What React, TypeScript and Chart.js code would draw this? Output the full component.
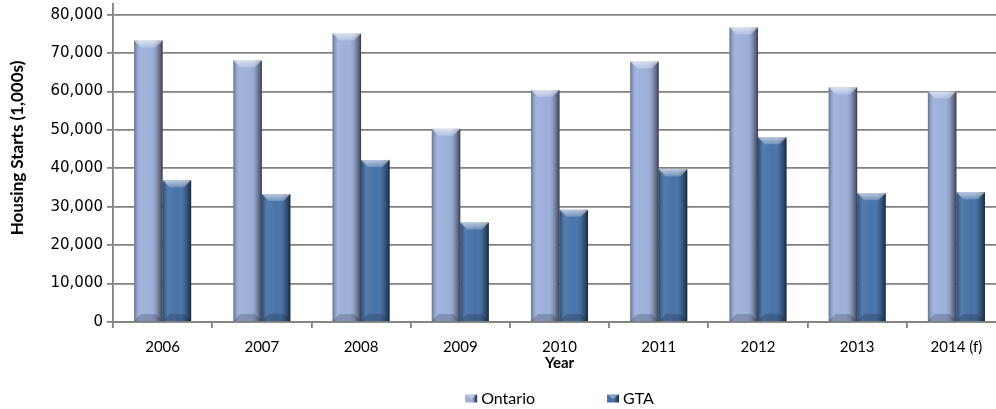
import React, { useEffect, useRef } from "react";
import { Chart, registerables } from "chart.js";

Chart.register(...registerables);

// ---- data ----
const categories = ["2006", "2007", "2008", "2009", "2010", "2011", "2012", "2013", "2014 (f)"];
const ontarioValues = [73300, 68100, 75100, 50300, 60400, 67800, 76700, 61100, 60000];
const gtaValues = [36900, 33300, 42200, 25900, 29200, 39700, 48100, 33500, 33800];
const yTickValues = [0, 10000, 20000, 30000, 40000, 50000, 60000, 70000, 80000];
const seriesNames = ["Ontario", "GTA"];
const seriesColors = ["#9cb0d9", "#4873a8"];
const yTitle = "Housing Starts (1,000s)";
const xTitle = "Year";

const W = 1010;
const H = 409;
const GRID = "#828282";

const barStylePlugin = {
  id: "barStyle",
  afterDatasetsDraw(chart: any) {
    const ctx = chart.ctx as CanvasRenderingContext2D;
    chart.data.datasets.forEach((_ds: any, di: number) => {
      const meta = chart.getDatasetMeta(di);
      meta.data.forEach((el: any) => {
        const { x, y, base, width } = el.getProps(["x", "y", "base", "width"], true);
        const l = x - width / 2;
        const r = x + width / 2;
        const t = Math.min(y, base);
        const b = Math.max(y, base);
        ctx.save();
        const g = ctx.createLinearGradient(l, 0, r, 0);
        g.addColorStop(0, "rgba(0,0,0,0.32)");
        g.addColorStop(0.08, "rgba(0,0,0,0.14)");
        g.addColorStop(0.2, "rgba(255,255,255,0.06)");
        g.addColorStop(0.55, "rgba(255,255,255,0)");
        g.addColorStop(0.78, "rgba(0,0,0,0.14)");
        g.addColorStop(0.92, "rgba(0,0,0,0.42)");
        g.addColorStop(1, "rgba(0,0,0,0.68)");
        ctx.fillStyle = g;
        ctx.fillRect(l, t, width, b - t);
        const bh = Math.min(7, (b - t) / 2);
        const bi = Math.min(7, width / 3);
        ctx.beginPath();
        ctx.moveTo(l, t);
        ctx.lineTo(r, t);
        ctx.lineTo(r - bi, t + bh);
        ctx.lineTo(l + bi, t + bh);
        ctx.closePath();
        const tg = ctx.createLinearGradient(0, t, 0, t + bh);
        tg.addColorStop(0, "rgba(255,255,255,0.6)");
        tg.addColorStop(1, "rgba(255,255,255,0.2)");
        ctx.fillStyle = tg;
        ctx.fill();
        ctx.beginPath();
        ctx.moveTo(l, b);
        ctx.lineTo(r, b);
        ctx.lineTo(r - bi, b - bh);
        ctx.lineTo(l + bi, b - bh);
        ctx.closePath();
        ctx.fillStyle = "rgba(0,0,0,0.18)";
        ctx.fill();
        ctx.restore();
      });
    });
  },
};

const legendPlugin = {
  id: "bottomLegend",
  afterDraw(chart: any) {
    const ctx = chart.ctx as CanvasRenderingContext2D;
    const area = chart.chartArea;
    ctx.save();
    ctx.font = "bold 17px Lato";
    ctx.fillStyle = "#000";
    ctx.textAlign = "center";
    ctx.textBaseline = "middle";
    ctx.translate(18, 148);
    ctx.rotate(-Math.PI / 2);
    ctx.fillText(yTitle, 0, 0);
    ctx.restore();

    ctx.save();
    ctx.font = "16px Lato";
    ctx.textBaseline = "middle";
    ctx.textAlign = "left";
    const boxW = 12;
    const boxH = 8;
    const gapText = 4;
    const gapItem = 72;
    const widths = seriesNames.map((n) => boxW + gapText + ctx.measureText(n).width);
    const total = widths.reduce((a, b) => a + b, 0) + gapItem * (seriesNames.length - 1);
    let cx = (area.left + area.right) / 2 - total / 2;
    const cy = 399;
    seriesNames.forEach((n, i) => {
      const g = ctx.createLinearGradient(cx, 0, cx + boxW, 0);
      g.addColorStop(0, seriesColors[i]);
      g.addColorStop(0.6, seriesColors[i]);
      g.addColorStop(1, "#1d2a3d");
      ctx.fillStyle = g;
      ctx.fillRect(cx, cy - boxH / 2 - 0.5, boxW, boxH);
      ctx.fillStyle = "rgba(255,255,255,0.35)";
      ctx.beginPath();
      ctx.moveTo(cx, cy - boxH / 2 - 0.5);
      ctx.lineTo(cx + boxW, cy - boxH / 2 - 0.5);
      ctx.lineTo(cx + boxW / 2, cy);
      ctx.closePath();
      ctx.fill();
      ctx.fillStyle = "#000";
      ctx.fillText(n, cx + boxW + gapText, cy);
      cx += widths[i] + gapItem;
    });
    ctx.restore();
  },
};

export default function App() {
  const ref = useRef<HTMLCanvasElement | null>(null);

  useEffect(() => {
    const canvas = ref.current;
    if (!canvas) return;
    canvas.width = W;
    canvas.height = H;
    const chart = new Chart(canvas, {
      type: "bar",
      data: {
        labels: categories,
        datasets: [
          {
            label: seriesNames[0],
            data: ontarioValues,
            backgroundColor: seriesColors[0],
            borderWidth: 0,
            barPercentage: 1,
            categoryPercentage: 0.575,
          },
          {
            label: seriesNames[1],
            data: gtaValues,
            backgroundColor: seriesColors[1],
            borderWidth: 0,
            barPercentage: 1,
            categoryPercentage: 0.575,
          },
        ],
      },
      options: {
        responsive: false,
        animation: false,
        devicePixelRatio: 1,
        layout: { padding: { top: 4, right: 4, left: 0, bottom: 0 } },
        plugins: {
          legend: { display: false },
          tooltip: { enabled: false },
        },
        scales: {
          x: {
            grid: {
              display: true,
              drawOnChartArea: false,
              tickLength: 6,
              color: GRID,
              lineWidth: 1.8,
              offset: true,
            },
            border: { color: GRID, width: 1.8 },
            ticks: {
              font: { family: "Lato", size: 15 },
              color: "#000",
              padding: 10,
              maxRotation: 0,
              autoSkip: false,
            },
            title: {
              display: true,
              text: xTitle,
              font: { family: "Lato", size: 15, weight: "bold" },
              color: "#000",
              padding: { top: 0, bottom: 37 },
            },
            afterFit: (s: any) => {
              s.height = 87;
              s.paddingLeft = 0;
              s.paddingRight = 0;
            },
          },
          y: {
            min: 0,
            max: 82800,
            ticks: {
              stepSize: 10000,
              font: { family: "DejaVu Sans", size: 15 },
              color: "#000",
              padding: 4,
              callback: (v: any) => Number(v).toLocaleString("en-US"),
            },
            afterBuildTicks: (s: any) => {
              s.ticks = yTickValues.map((v) => ({ value: v }));
            },
            grid: { color: GRID, lineWidth: 1.8, tickLength: 6 },
            border: { color: GRID, width: 1.8 },
            title: { display: false },
            afterFit: (s: any) => {
              s.width = 113;
              s.paddingTop = 0;
              s.paddingBottom = 0;
            },
          },
        },
      },
      plugins: [barStylePlugin, legendPlugin],
    } as any);
    return () => chart.destroy();
  }, []);

  return (
    <div
      style={{
        position: "fixed",
        left: 0,
        top: 0,
        width: 996,
        height: 409,
        overflow: "hidden",
        background: "#fff",
      }}
    >
      <canvas ref={ref} style={{ display: "block" }} />
    </div>
  );
}
